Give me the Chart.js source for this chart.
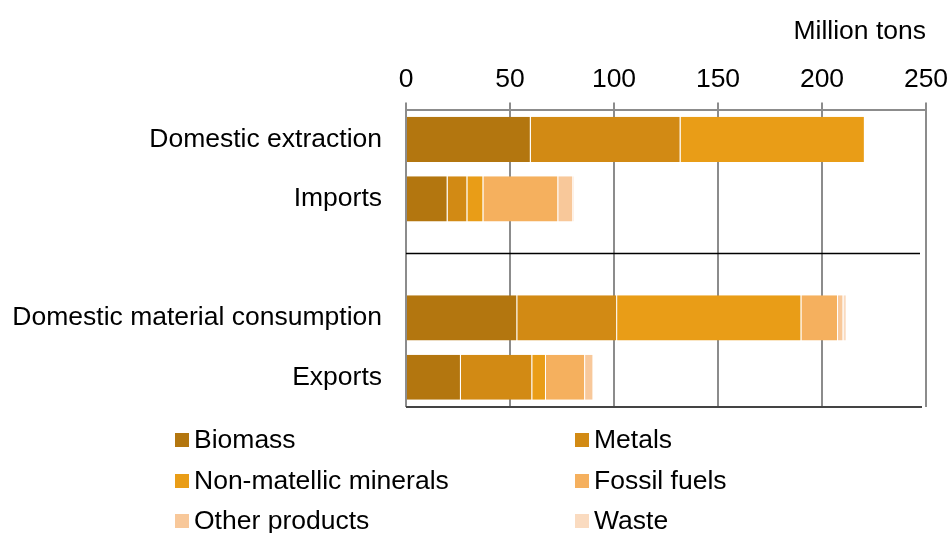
<!DOCTYPE html>
<html>
<head>
<meta charset="utf-8">
<script src="https://cdn.jsdelivr.net/npm/chart.js@4"></script>
<style>
  body { margin: 0; background: #fff; }
  #wrap { width: 950px; height: 533px; position: relative; }
</style>
</head>
<body>
<div id="wrap"><canvas id="chart"></canvas></div>
<script>
// categories (empty slot in the middle is the gap under the separator line)
const categories = ['Domestic extraction', 'Imports', '', 'Domestic material consumption', 'Exports'];

// million tons
const biomass     = [60,   20,  null, 53.5, 26.4];
const metals      = [72,   9.5, null, 48,   34.3];
const nonMetallic = [88.6, 7.7, null, 88.6, 6.6];
const fossilFuels = [0,    36,  null, 17.6, 18.8];
const otherProd   = [0,    7.2, null, 2.6,  4.0];
const waste       = [0,    0.5, null, 1.6,  0];

const seriesNames = ['Biomass', 'Metals', 'Non-matellic minerals', 'Fossil fuels', 'Other products', 'Waste'];
const seriesData = [biomass, metals, nonMetallic, fossilFuels, otherProd, waste];
const seriesColors = ['#b3760f', '#d28a14', '#e99d17', '#f5b05e', '#f8c89a', '#fadbc0'];

const xTicks = [0, 50, 100, 150, 200, 250];

const FONT = "'Liberation Sans', Arial, sans-serif";
const FSIZE = 26.5;

// separator + bottom axis line, plus the two-column legend under the plot
const extras = {
    id: 'extras',
    afterDraw(chart) {
        const ctx = chart.ctx;
        const area = chart.chartArea;
        const y = chart.scales.y;
        ctx.save();
        // separator between inputs and outputs
        const sepY = Math.round(y.getPixelForValue(2)) - 5 + 0.5;
        ctx.strokeStyle = '#000';
        ctx.lineWidth = 1.5;
        ctx.beginPath();
        ctx.moveTo(area.left, sepY);
        ctx.lineTo(area.right - 6, sepY);
        ctx.stroke();
        // bottom axis line
        ctx.strokeStyle = '#444';
        ctx.lineWidth = 2;
        ctx.beginPath();
        ctx.moveTo(area.left, area.bottom);
        ctx.lineTo(area.right - 4, area.bottom);
        ctx.stroke();

        // legend
        ctx.font = FSIZE + 'px ' + FONT;
        ctx.textBaseline = 'middle';
        ctx.textAlign = 'left';
        const colX = [175, 575];
        const rowY = [440, 481, 521];
        chart.data.datasets.forEach((ds, i) => {
            const cx = colX[i % 2];
            const cy = rowY[Math.floor(i / 2)];
            ctx.fillStyle = ds.backgroundColor;
            ctx.fillRect(cx, cy - 7, 14, 14);
            ctx.fillStyle = '#000';
            ctx.fillText(ds.label, cx + 19, cy + 1);
        });
        ctx.restore();
    }
};

new Chart(document.getElementById('chart'), {
    type: 'bar',
    data: {
        labels: categories,
        datasets: seriesNames.map((name, i) => ({
            label: name,
            data: seriesData[i],
            backgroundColor: seriesColors[i],
            borderColor: 'rgba(255,255,255,0.25)',
            borderWidth: { right: 1 },
            borderSkipped: false,
            categoryPercentage: 0.76,
            barPercentage: 1
        }))
    },
    options: {
        indexAxis: 'y',
        responsive: true,
        maintainAspectRatio: false,
        animation: false,
        layout: { padding: { left: 12, right: 24, top: 16, bottom: 126 } },
        plugins: {
            legend: { display: false },
            tooltip: { enabled: false }
        },
        scales: {
            x: {
                position: 'top',
                stacked: true,
                min: 0,
                max: 250,
                afterBuildTicks: axis => { axis.ticks = xTicks.map(v => ({ value: v })); },
                afterFit: axis => { axis.paddingLeft = 0; axis.paddingRight = 0; },
                ticks: {
                    color: '#000',
                    font: { family: FONT, size: FSIZE },
                    padding: 7
                },
                grid: {
                    color: '#8c8c8c',
                    lineWidth: 2,
                    tickLength: 7
                },
                border: { display: true, color: '#8c8c8c', width: 2 },
                title: {
                    display: true,
                    text: 'Million tons',
                    align: 'end',
                    color: '#000',
                    font: { family: FONT, size: FSIZE },
                    padding: { top: 0, bottom: 9 }
                }
            },
            y: {
                stacked: true,
                afterFit: axis => { axis.width = 394; },
                ticks: {
                    color: '#000',
                    font: { family: FONT, size: FSIZE },
                    padding: 24
                },
                grid: { display: false, drawTicks: false },
                border: { display: false }
            }
        }
    },
    plugins: [extras]
});
</script>
</body>
</html>
